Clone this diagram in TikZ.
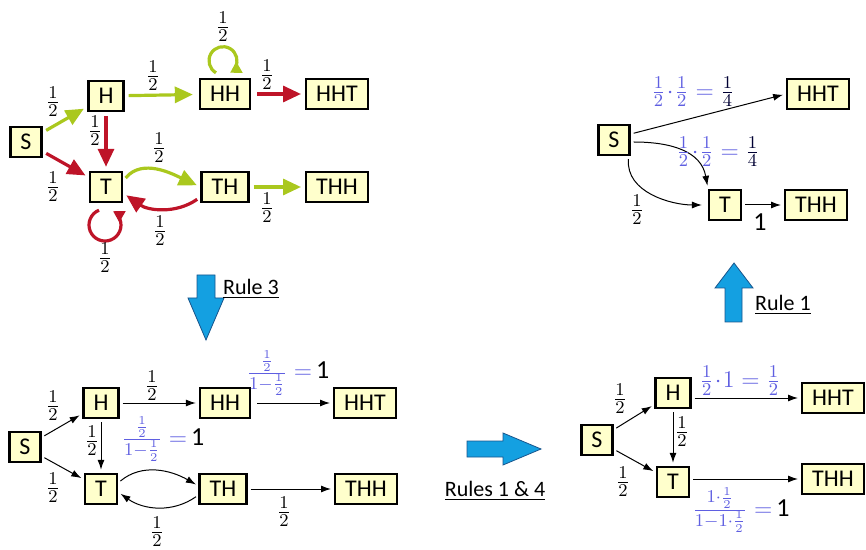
\documentclass[tikz,border=0pt]{standalone}
\usepackage{fontspec}
\setmainfont{Carlito}
\usetikzlibrary{arrows.meta}

\definecolor{boxfill}{RGB}{255,255,204}
\definecolor{headgreen}{RGB}{170,200,30}
\definecolor{tailred}{RGB}{190,20,40}
\definecolor{calcblue}{RGB}{95,95,225}
\definecolor{rulefill}{RGB}{20,160,225}
\definecolor{ruleline}{RGB}{25,85,140}

\newcommand{\bigone}{\textcolor{black}{\fontsize{13}{15}\selectfont 1}}

\tikzset{
  state/.style={draw, line width=1.2pt, fill=boxfill, font=\fontsize{12}{14}\selectfont,
    minimum height=15pt, inner xsep=5pt, inner ysep=0pt},
  prob/.style={inner sep=1pt, font=\fontsize{12.5}{15}\selectfont},
  calc/.style={text=calcblue, inner sep=1pt, font=\fontsize{13}{15}\selectfont},
  headsflow/.style={line width=1.6pt, headgreen, -{Triangle[length=9pt,width=8pt]},
    shorten >=2pt, shorten <=2pt},
  tailsflow/.style={line width=1.6pt, tailred, -{Triangle[length=9pt,width=8pt]},
    shorten >=2pt, shorten <=2pt},
  loopflow/.style={line width=1.6pt, -{Triangle[length=5.5pt,width=6pt]}},
  flow/.style={line width=0.5pt, -{Latex[length=5pt,width=3.5pt]},
    shorten >=1.5pt, shorten <=1.5pt},
  fatarrow/.style={fill=rulefill, draw=ruleline, line width=0.4pt},
  rulelabel/.style={font=\fontsize{11}{13}\selectfont},
}

\begin{document}
\begin{tikzpicture}[x=0.5pt, y=-0.5pt]
    \useasboundingbox (0,0) rectangle (866,550);

    % coin chain, top left
    \node[state] (s1)   at (26,142)  {S};
    \node[state] (h1)   at (106,96)  {H};
    \node[state] (hh1)  at (225,94)  {HH};
    \node[state] (hht1) at (337,94)  {HHT};
    \node[state] (t1)   at (106,187) {T};
    \node[state] (th1)  at (225,187) {TH};
    \node[state] (thh1) at (337,187) {THH};

    \draw[headsflow] (s1) -- (h1);
    \draw[tailsflow] (s1) -- (t1);
    \draw[tailsflow] (h1) -- (t1);
    \draw[headsflow, shorten >=3pt] (h1) -- (hh1);
    \draw[tailsflow, shorten <=3pt] (hh1) -- (hht1);
    \draw[headsflow] (th1) -- (thh1);
    \draw[headsflow] ([yshift=3pt]t1.east) to[out=50,in=155] (th1.west);
    \draw[tailsflow] ([yshift=-5pt]th1.west) to[out=-145,in=-35] ([yshift=-3pt]t1.east);
    \draw[loopflow, headgreen] ([xshift=-4.5pt,yshift=2.5pt]hh1.north)
        arc[start angle=240, end angle=-60, radius=7pt];
    \draw[loopflow, tailred] ([xshift=-3.5pt,yshift=-3.5pt]t1.south)
        arc[start angle=112, end angle=420, radius=8pt];

    \node[prob] (pa-sh)   at (53,102)  {$\frac12$};
    \node[prob] (pa-st)   at (53,187)  {$\frac12$};
    \node[prob] (pa-ht)   at (95,131)  {$\frac12$};
    \node[prob] (pa-hhh)  at (153,76)  {$\frac12$};
    \node[prob] (pa-hhl)  at (223,27)  {$\frac12$};
    \node[prob] (pa-hhht) at (267,75)  {$\frac12$};
    \node[prob] (pa-tth)  at (159,148) {$\frac12$};
    \node[prob] (pa-tht)  at (160,231) {$\frac12$};
    \node[prob] (pa-tl)   at (105,258) {$\frac12$};
    \node[prob] (pa-thh)  at (267,208) {$\frac12$};

    % Rule 3
    \draw[fatarrow] (197,275) -- (215,275) -- (215,298) -- (224,298) -- (206,340)
        -- (188,298) -- (197,298) -- cycle;
    \node[rulelabel] (rule3) at (251,289) {\underline{Rule 3}};

    % after rule 3, bottom left
    \node[state] (s2)   at (25,447)  {S};
    \node[state] (h2)   at (101,403) {H};
    \node[state] (hh2)  at (225,403) {HH};
    \node[state] (hht2) at (365,403) {HHT};
    \node[state] (t2)   at (101,489) {T};
    \node[state] (th2)  at (223,489) {TH};
    \node[state] (thh2) at (366,489) {THH};

    \draw[flow] (s2) -- (h2);
    \draw[flow] (s2) -- (t2);
    \draw[flow] (h2) -- (t2);
    \draw[flow] (h2) -- (hh2);
    \draw[flow, shorten <=3pt] (hh2) -- (hht2);
    \draw[flow] (th2) -- (thh2);
    \draw[flow] ([yshift=3pt]t2.east) to[out=40,in=150] ([yshift=1.5pt]th2.west);
    \draw[flow] ([yshift=-3pt]th2.west) to[out=-145,in=-35] ([yshift=-1.5pt]t2.east);

    \node[prob] (pb-sh)  at (53,406)  {$\frac12$};
    \node[prob] (pb-st)  at (53,488)  {$\frac12$};
    \node[prob] (pb-ht)  at (92,441)  {$\frac12$};
    \node[prob] (pb-hhh) at (152,386) {$\frac12$};
    \node[prob] (pb-tht) at (157,532) {$\frac12$};
    \node[prob] (pb-thh) at (284,512) {$\frac12$};
    \node[calc] (pb-hht) at (288,373) {$\frac{\frac12}{1-\frac12}=\,$\bigone};
    \node[calc] (pb-tth) at (163,439) {$\frac{\frac12}{1-\frac12}=\,$\bigone};

    % Rules 1 & 4
    \draw[fatarrow] (467,441) -- (503,441) -- (503,433) -- (541,449) -- (503,465)
        -- (503,457) -- (467,457) -- cycle;
    \node[rulelabel] (rule14) at (495,491) {\underline{Rules 1 \& 4}};

    % after rules 1 & 4, bottom right
    \node[state] (s3)   at (597,440) {S};
    \node[state] (h3)   at (673,393) {H};
    \node[state] (hht3) at (833,398) {HHT};
    \node[state] (t3)   at (673,482) {T};
    \node[state] (thh3) at (833,479) {THH};

    \draw[flow] (s3) -- (h3);
    \draw[flow] (s3) -- (t3);
    \draw[flow] (h3) -- (t3);
    \draw[flow] (h3.east |- hht3.west) -- (hht3.west);
    \draw[flow] (t3.east |- thh3.west) -- (thh3.west);

    \node[prob] (pc-sh) at (620,399) {$\frac12$};
    \node[prob] (pc-st) at (623,482) {$\frac12$};
    \node[prob] (pc-ht) at (682,432) {$\frac12$};
    \node[calc] (pc-hht) at (740,381) {$\frac12\!\cdot\!1=\frac12$};
    \node[calc] (pc-tthh) at (741,510) {$\frac{1\cdot\frac12}{1-1\cdot\frac12}=\,$\bigone};

    % Rule 1
    \draw[fatarrow] (725,322) -- (725,288) -- (715,288) -- (734,263) -- (753,288)
        -- (742,288) -- (742,322) -- cycle;
    \node[rulelabel] (rule1) at (783,305) {\underline{Rule 1}};

    % final chain, top right
    \node[state] (s4)   at (614,140) {S};
    \node[state] (hht4) at (818,94)  {HHT};
    \node[state] (t4)   at (725,205) {T};
    \node[state] (thh4) at (816,205) {THH};

    \draw[flow] ([yshift=3pt]s4.east) -- (hht4.west);
    \draw[flow] ([yshift=-1pt]s4.east) to[out=0,in=100,looseness=1.1] (t4.north west);
    \draw[flow, shorten >=3pt] ([xshift=-1pt]s4.south east) to[out=-95,in=180] (t4.west);
    \draw[flow] (t4) -- (thh4);

    \node[calc] (pd-shht) at (693,92)  {$\frac12\!\cdot\!\frac12=\textcolor{black!80!blue}{\frac14}$};
    \node[calc] (pd-st)   at (718,152) {$\frac12\!\cdot\!\frac12=\textcolor{black!80!blue}{\frac14}$};
    \node[prob] (pd-s2t)  at (637,210) {$\frac12$};
    \node[prob, font=\fontsize{13}{15}\selectfont] (pd-tthh) at (760,222) {1};
\end{tikzpicture}
\end{document}
